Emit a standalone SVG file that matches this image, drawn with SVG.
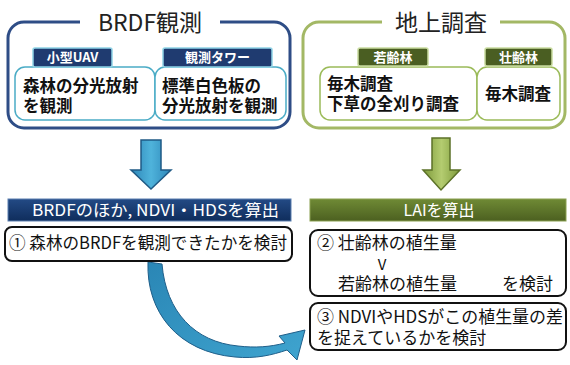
<svg xmlns="http://www.w3.org/2000/svg" width="570" height="365" viewBox="0 0 570 365">
<defs>
<style>
.t{font-family:"Noto Sans CJK JP","Noto Sans",sans-serif;}
.title{font-size:23px;fill:#222;}
.sub{font-size:16.5px;font-weight:bold;fill:#111;}
.lab{font-size:13px;font-weight:bold;fill:#fff;}
.bar{font-size:16px;fill:#fff;}
.body{font-size:17px;fill:#111;}
.bbig{fill:none;stroke:#2e4d86;stroke-width:3;}
.gbig{fill:none;stroke:#a3b865;stroke-width:3;}
.bsub{fill:#fff;stroke:#4bacc6;stroke-width:1.5;}
.gsub{fill:#fff;stroke:#9bbb59;stroke-width:1.5;}
.blab{fill:#1f3b70;stroke:#8fd3e6;stroke-width:1.5;}
.glab{fill:#4a5e22;stroke:#c9dca0;stroke-width:1.5;}
.res{fill:#fff;stroke:#111;stroke-width:2;}
</style>
<linearGradient id="gBar" x1="0" y1="0" x2="0" y2="1">
<stop offset="0" stop-color="#234a85"/><stop offset="1" stop-color="#0f2d5c"/>
</linearGradient>
<linearGradient id="gBarG" x1="0" y1="0" x2="0" y2="1">
<stop offset="0" stop-color="#6f8a35"/><stop offset="1" stop-color="#4c6020"/>
</linearGradient>
<linearGradient id="gArrB" x1="0" y1="0" x2="1" y2="0">
<stop offset="0" stop-color="#2d86b8"/><stop offset="0.5" stop-color="#4fb3db"/><stop offset="1" stop-color="#2d86b8"/>
</linearGradient>
<linearGradient id="gArrG" x1="0" y1="0" x2="1" y2="0">
<stop offset="0" stop-color="#7d9a3a"/><stop offset="0.5" stop-color="#b4cc70"/><stop offset="1" stop-color="#7d9a3a"/>
</linearGradient>
<linearGradient id="gCurve" x1="0" y1="0" x2="1" y2="1">
<stop offset="0" stop-color="#2a86b5"/><stop offset="1" stop-color="#3fa4cf"/>
</linearGradient>
</defs>
<rect width="570" height="365" fill="#fff"/>

<g id="brdf">
<rect class="bbig" x="8" y="22" width="282" height="106" rx="16"/>
<rect x="80" y="10" width="140" height="20" fill="#fff"/>
<text class="t title" x="150" y="31" text-anchor="middle">BRDF観測</text>
</g>
<g id="uav">
<rect class="bsub" x="15" y="67" width="140" height="53" rx="10"/>
<rect class="blab" x="33" y="48" width="79" height="19" rx="2"/>
<text class="t lab" x="72.5" y="62" text-anchor="middle">小型UAV</text>
<text class="t sub" x="23" y="92">森林の分光放射<tspan x="23" y="112">を観測</tspan></text>
</g>
<g id="tower">
<rect class="bsub" x="155" y="67" width="131" height="53" rx="10"/>
<rect class="blab" x="163" y="48" width="109" height="19" rx="2"/>
<text class="t lab" x="217.5" y="62" text-anchor="middle">観測タワー</text>
<text class="t sub" x="162" y="92">標準白色板の<tspan x="162" y="112">分光放射を観測</tspan></text>
</g>

<g id="ground">
<rect class="gbig" x="303" y="22" width="262" height="106" rx="16"/>
<rect x="382" y="10" width="118" height="20" fill="#fff"/>
<text class="t title" x="441" y="31" text-anchor="middle">地上調査</text>
</g>
<g id="young">
<rect class="gsub" x="320" y="67" width="157" height="53" rx="10"/>
<rect class="glab" x="358" y="48" width="70" height="18" rx="2"/>
<text class="t lab" x="393" y="62" text-anchor="middle">若齢林</text>
<text class="t sub" x="327" y="90">毎木調査<tspan x="327" y="110">下草の全刈り調査</tspan></text>
</g>
<g id="mature">
<rect class="gsub" x="477" y="67" width="83" height="53" rx="10"/>
<rect class="glab" x="485" y="48" width="67" height="18" rx="2"/>
<text class="t lab" x="518.5" y="62" text-anchor="middle">壮齢林</text>
<text class="t sub" x="485" y="100">毎木調査</text>
</g>

<g id="connectors">
<path d="M141,140 H161 V170 H171 L151,189 L131,170 H141 Z" fill="url(#gArrB)" stroke="#1f5a85" stroke-width="1.5"/>
<path d="M432,138 H450 V170 H460 L441,190 L423,170 H432 Z" fill="url(#gArrG)" stroke="#5c7228" stroke-width="1.5"/>
<path d="M148,262 C146,312 178,352 235,357 C256,359 272,355 287,350 L297,360 L305,330 L279,336 L285,343 C270,347 255,348 238,346 C195,342 166,312 162,264 Z" fill="url(#gCurve)" stroke="#1f5f8a" stroke-width="1"/>
</g>

<g id="calc-brdf">
<rect x="8" y="199" width="283" height="22" fill="url(#gBar)" stroke="#5a7fb0" stroke-width="1"/>
<text class="t bar" x="32" y="216" textLength="247" lengthAdjust="spacingAndGlyphs">BRDFのほか, NDVI・HDSを算出</text>
</g>
<g id="calc-lai">
<rect x="310" y="199" width="256" height="22" fill="url(#gBarG)" stroke="#8aa050" stroke-width="1"/>
<text class="t bar" x="439" y="216" text-anchor="middle">LAIを算出</text>
</g>

<g id="check1">
<rect class="res" x="5" y="227" width="287" height="34" rx="7"/>
<text class="t body" x="9" y="249" textLength="278" lengthAdjust="spacingAndGlyphs">① 森林のBRDFを観測できたかを検討</text>
</g>
<g id="check2">
<rect class="res" x="310" y="230" width="256" height="66" rx="8"/>
<text class="t body" x="317" y="249">② 壮齢林の植生量<tspan x="382" y="270" text-anchor="middle" font-size="15">V</tspan><tspan x="338" y="290">若齢林の植生量</tspan><tspan x="502" y="290">を検討</tspan></text>
</g>
<g id="check3">
<rect class="res" x="310" y="303" width="256" height="47" rx="8"/>
<text class="t body" x="317" y="323" textLength="246" lengthAdjust="spacingAndGlyphs">③ NDVIやHDSがこの植生量の差</text>
<text class="t body" x="317" y="344" font-size="16.5">を捉えているかを検討</text>
</g>
</svg>
